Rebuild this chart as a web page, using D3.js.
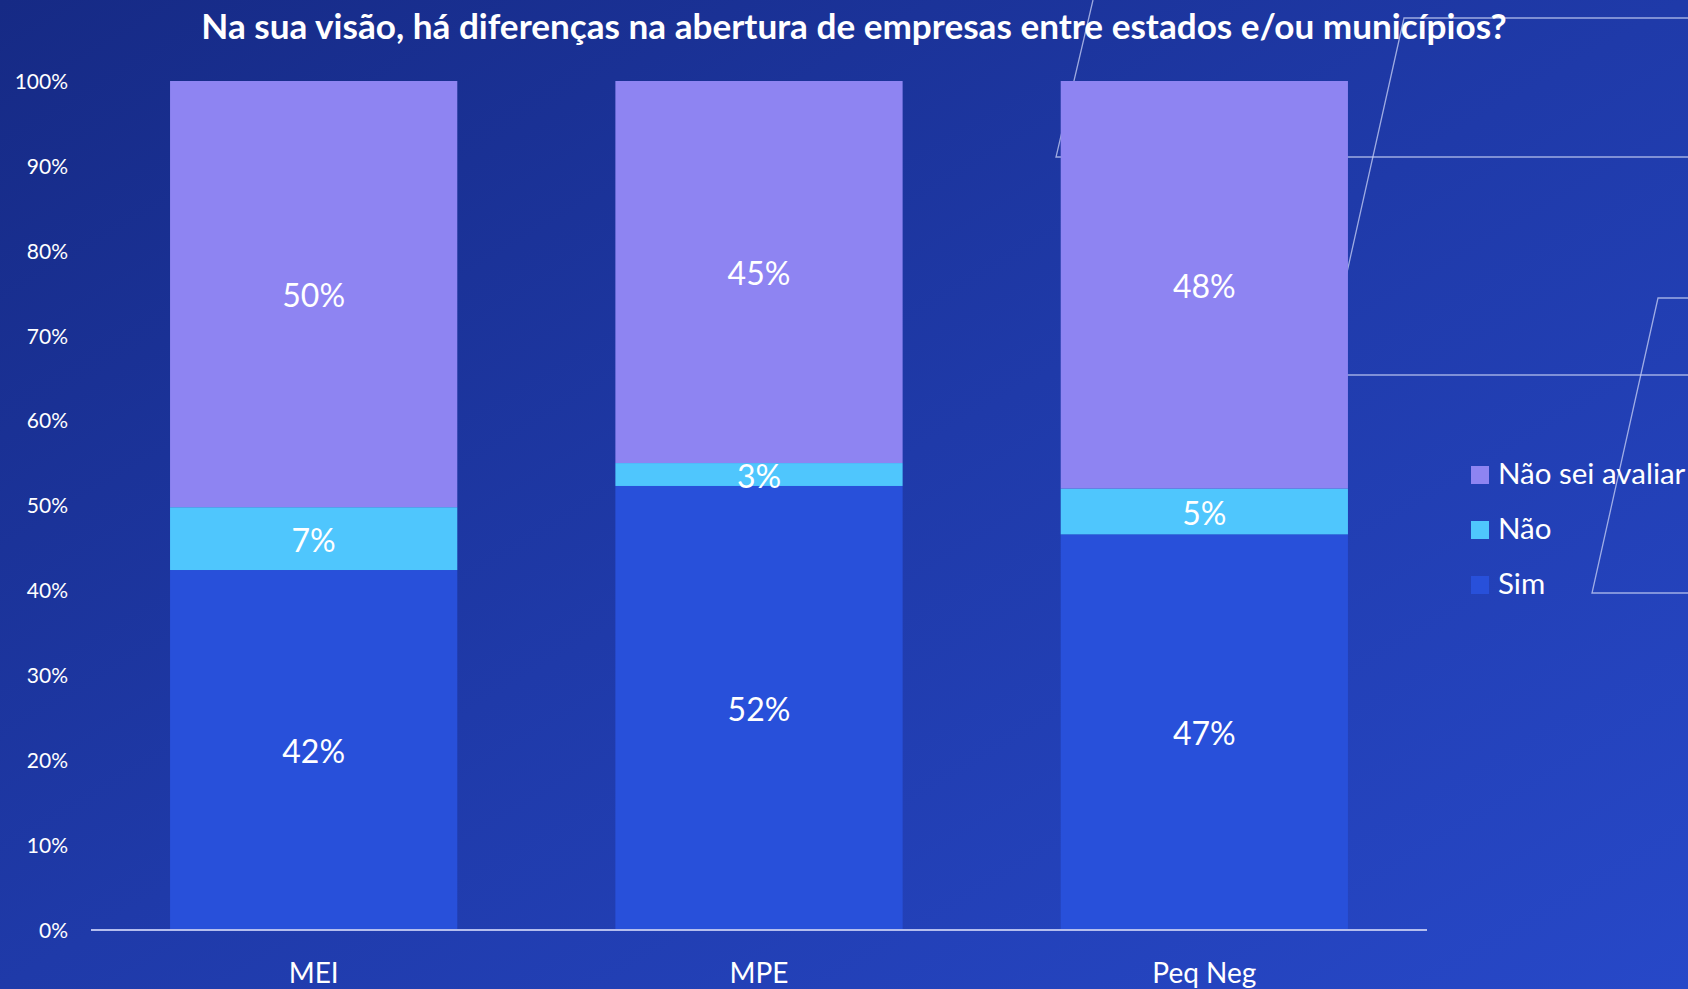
<!DOCTYPE html>
<html>
<head>
<meta charset="utf-8">
<script src="https://cdn.jsdelivr.net/npm/d3@7"></script>
<style>
  html, body { margin: 0; padding: 0; background: #1d37a0; }
  svg { display: block; }
  text { font-family: Lato, Carlito, Calibri, "Open Sans", sans-serif; fill: #ffffff; }
</style>
</head>
<body>
<svg id="chart" width="1688" height="989"></svg>
<script>
// ---- data ----
const titleText = "Na sua visão, há diferenças na abertura de empresas entre estados e/ou municípios?";
const categories = ["MEI", "MPE", "Peq Neg"];
const seriesNames = ["Sim", "Não", "Não sei avaliar"];
const simValues = [0.424, 0.523, 0.466];
const naoValues = [0.074, 0.027, 0.054];
const naoSeiValues = [0.502, 0.450, 0.480];
const yTicks = [0, 0.1, 0.2, 0.3, 0.4, 0.5, 0.6, 0.7, 0.8, 0.9, 1.0];
const seriesColors = ["#2850da", "#4fc6fd", "#8e84f2"];

// ---- setup ----
const W = 1688, H = 989;
const svg = d3.select("#chart");
const margin = { left: 91, right: W - 1427, top: 81, bottom: H - 930 };

// background gradient
const defs = svg.append("defs");
const grad = defs.append("linearGradient").attr("id", "bg")
  .attr("x1", "0%").attr("y1", "0%").attr("x2", "100%").attr("y2", "100%");
grad.append("stop").attr("offset", "0%").attr("stop-color", "#162a85");
grad.append("stop").attr("offset", "50%").attr("stop-color", "#1f3aa9");
grad.append("stop").attr("offset", "100%").attr("stop-color", "#2748c8");
svg.append("rect").attr("width", W).attr("height", H).attr("fill", "url(#bg)");

// decorative parallelogram lines
const deco = svg.append("g").attr("fill", "none").attr("stroke", "#c9d2f5")
  .attr("stroke-opacity", 0.75).attr("stroke-width", 1.3);
const decoPaths = [
  [[1093, 0], [1056, 157], [W, 157]],
  [[W, 18], [1404, 18], [1324, 375], [W, 375]],
  [[W, 298], [1658, 298], [1592, 593], [W, 593]]
];
decoPaths.forEach(p => deco.append("path").attr("d", d3.line()(p)));

// scales
const x = d3.scaleBand().domain(categories)
  .range([margin.left, W - margin.right]).paddingInner(0.355).paddingOuter(0.1775);
const y = d3.scaleLinear().domain([0, 1]).range([H - margin.bottom, margin.top]);

// stack
const rows = categories.map((c, i) => ({ cat: c, "Sim": simValues[i], "Não": naoValues[i], "Não sei avaliar": naoSeiValues[i] }));
const stacked = d3.stack().keys(seriesNames)(rows);

const gBars = svg.append("g");
stacked.forEach((layer, li) => {
  gBars.selectAll(null).data(layer).join("rect")
    .attr("x", d => x(d.data.cat))
    .attr("width", x.bandwidth())
    .attr("y", d => y(d[1]))
    .attr("height", d => y(d[0]) - y(d[1]))
    .attr("fill", seriesColors[li]);
});

// data labels
const pct = d3.format(".0%");
stacked.forEach((layer, li) => {
  svg.append("g").selectAll(null).data(layer).join("text")
    .attr("x", d => x(d.data.cat) + x.bandwidth() / 2)
    .attr("y", d => (y(d[0]) + y(d[1])) / 2)
    .attr("dy", "0.41em")
    .attr("text-anchor", "middle")
    .attr("font-size", 32)
    .text(d => pct(d[1] - d[0]));
});

// y axis labels
const yAxis = d3.axisLeft(y).tickValues(yTicks).tickFormat(d3.format(".0%")).tickSize(0).tickPadding(0);
const gy = svg.append("g").attr("transform", "translate(68,0)").call(yAxis);
gy.select(".domain").remove();
gy.selectAll("text").attr("font-size", 21).attr("fill", "#ffffff")
  .attr("font-family", "Lato, Carlito, Calibri, sans-serif").attr("dy", "0.35em");

// x axis
const xAxis = d3.axisBottom(x).tickSize(0).tickPadding(0);
const gx = svg.append("g").attr("transform", `translate(0,${H - margin.bottom})`).call(xAxis);
gx.select(".domain").attr("stroke", "#b4bdee").attr("stroke-width", 2.2)
  .attr("d", `M${margin.left},0H${W - margin.right}`);
gx.selectAll("text").attr("font-size", 28).attr("fill", "#ffffff")
  .attr("font-family", "Lato, Carlito, Calibri, sans-serif").attr("y", 53).attr("dy", 0);

// legend
const legendItems = seriesNames.map((n, i) => ({ name: n, color: seriesColors[i] })).reverse();
const lg = svg.append("g");
legendItems.forEach((it, i) => {
  const by = 484 + i * 55;
  lg.append("rect").attr("x", 1471).attr("y", by - 18).attr("width", 18).attr("height", 18).attr("fill", it.color);
  lg.append("text").attr("x", 1498).attr("y", by).attr("font-size", 29.5).text(it.name);
});

// title
const title = svg.append("text").attr("x", 854).attr("y", 39)
  .attr("text-anchor", "middle").attr("font-weight", "bold").attr("font-size", 32).text(titleText);
const tw = title.node().getComputedTextLength();
title.attr("font-size", 32 * 1306 / tw);
</script>
</body>
</html>
